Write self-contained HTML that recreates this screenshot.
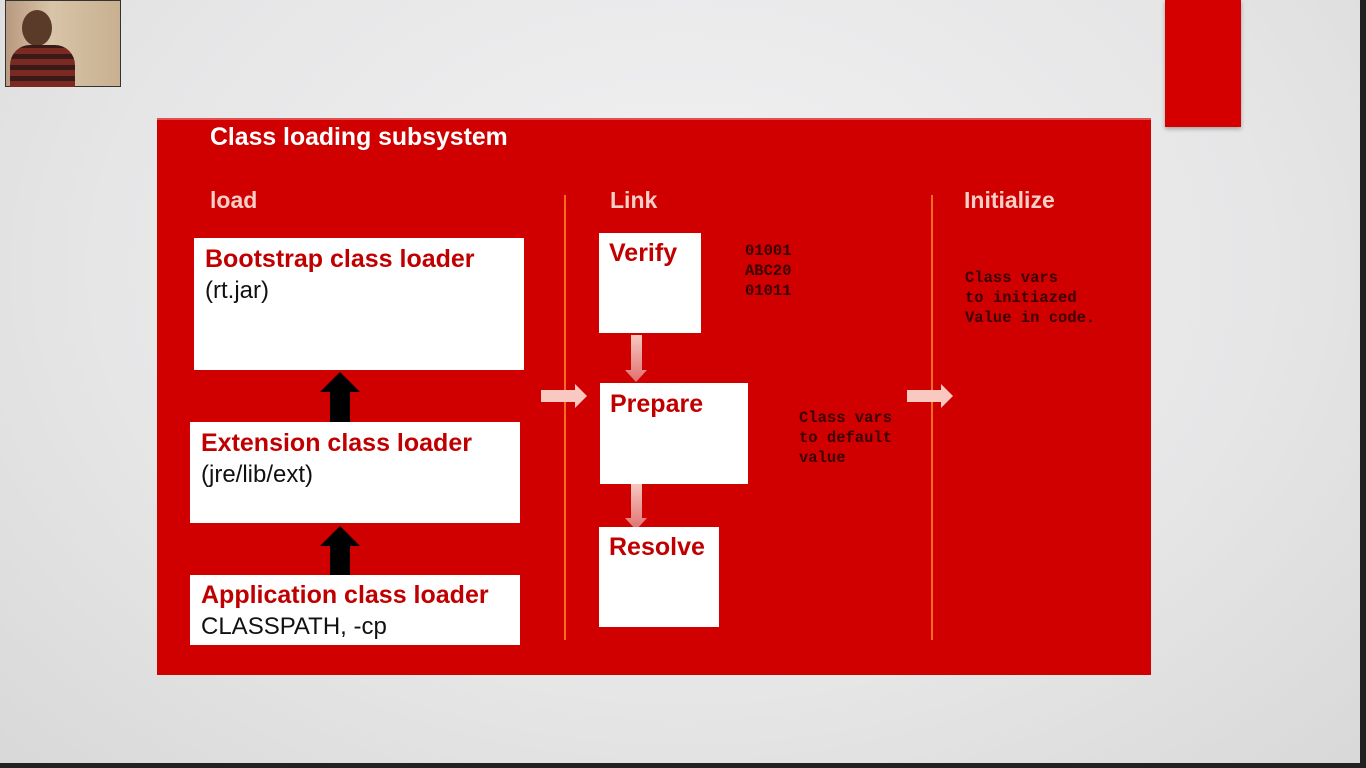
<!DOCTYPE html>
<html><head><style>
*{margin:0;padding:0;box-sizing:border-box}
body{width:1366px;height:768px;overflow:hidden;position:relative;background:radial-gradient(ellipse at 50% 35%,#f2f2f3 0%,#e6e6e7 60%,#d8d8d8 100%);font-family:"Liberation Sans",sans-serif}
.a{position:absolute}
.box{position:absolute;background:#fff}
.t{position:absolute;font-weight:bold;color:#c00000;font-size:25px;white-space:nowrap}
.s{position:absolute;color:#111;font-size:24px;white-space:nowrap}
.m{position:absolute;font-family:"Liberation Mono",monospace;font-size:15.5px;font-weight:bold;line-height:20px;color:#3a0000;white-space:pre}
.h{position:absolute;font-weight:bold;color:#f7cfc6;font-size:23px}
</style></head><body>
<div class="a" style="left:5px;top:0;width:116px;height:87px;background:linear-gradient(90deg,#b89a80,#d8c4a8 40%,#c8b090);border:1px solid #333"></div>
<div class="a" style="left:22px;top:10px;width:30px;height:36px;border-radius:50%;background:#5a3a28"></div>
<div class="a" style="left:10px;top:45px;width:65px;height:42px;border-radius:20px 20px 0 0;background:repeating-linear-gradient(0deg,#7a2a20 0 6px,#3a1a18 6px 11px)"></div>
<div class="a" style="left:1165px;top:0;width:76px;height:127px;background:#d40000;box-shadow:0 2px 4px rgba(0,0,0,.3)"></div>
<div class="a" style="left:1360px;top:0;width:6px;height:768px;background:#222"></div>
<div class="a" style="left:0;top:763px;width:1366px;height:5px;background:#222"></div>
<div class="a" style="left:157px;top:118px;width:994px;height:557px;background:#d00000;border-top:2px solid #e05050"></div>
<div class="a" style="left:210px;top:124px;font-size:24.8px;font-weight:bold;color:#fff">Class loading subsystem</div>
<div class="h" style="left:210px;top:187px">load</div>
<div class="h" style="left:610px;top:187px">Link</div>
<div class="h" style="left:964px;top:187px">Initialize</div>
<div class="a" style="left:564px;top:195px;width:2px;height:445px;background:#ff6a20"></div>
<div class="a" style="left:931px;top:195px;width:2px;height:445px;background:#ff6a20"></div>

<div class="box" style="left:194px;top:238px;width:330px;height:132px"></div>
<div class="t" style="left:205px;top:245px">Bootstrap class loader</div>
<div class="s" style="left:205px;top:277px">(rt.jar)</div>
<div class="box" style="left:190px;top:422px;width:330px;height:101px"></div>
<div class="t" style="left:201px;top:429px">Extension class loader</div>
<div class="s" style="left:201px;top:461px">(jre/lib/ext)</div>
<div class="box" style="left:190px;top:575px;width:330px;height:70px"></div>
<div class="t" style="left:201px;top:581px">Application class loader</div>
<div class="s" style="left:201px;top:613px">CLASSPATH, -cp</div>

<svg class="a" style="left:0;top:0" width="1366" height="768">
<polygon points="340,372 360,392 350,392 350,422 330,422 330,392 320,392" fill="#000"/>
<polygon points="340,526 360,546 350,546 350,575 330,575 330,546 320,546" fill="#000"/>
<defs><linearGradient id="g" x1="0" y1="0" x2="0" y2="1"><stop offset="0" stop-color="#f6c8c0"/><stop offset="1" stop-color="#e07070"/></linearGradient></defs>
<polygon points="541,390 575,390 575,384 587,396 575,408 575,402 541,402" fill="#f9c8c0"/>
<polygon points="907,390 941,390 941,384 953,396 941,408 941,402 907,402" fill="#f9c8c0"/>
<polygon points="631,335 642,335 642,370 647,370 636,382 625,370 631,370" fill="url(#g)"/>
<polygon points="631,484 642,484 642,518 647,518 636,530 625,518 631,518" fill="url(#g)"/>
</svg>

<div class="box" style="left:599px;top:233px;width:102px;height:100px"></div>
<div class="t" style="left:609px;top:239px">Verify</div>
<div class="box" style="left:600px;top:383px;width:148px;height:101px"></div>
<div class="t" style="left:610px;top:390px">Prepare</div>
<div class="box" style="left:599px;top:527px;width:120px;height:100px"></div>
<div class="t" style="left:609px;top:533px">Resolve</div>

<div class="m" style="left:745px;top:241px">01001
ABC20
01011</div>
<div class="m" style="left:799px;top:408px">Class vars
to default
value</div>
<div class="m" style="left:965px;top:268px">Class vars
to initiazed
Value in code.</div>
</body></html>
